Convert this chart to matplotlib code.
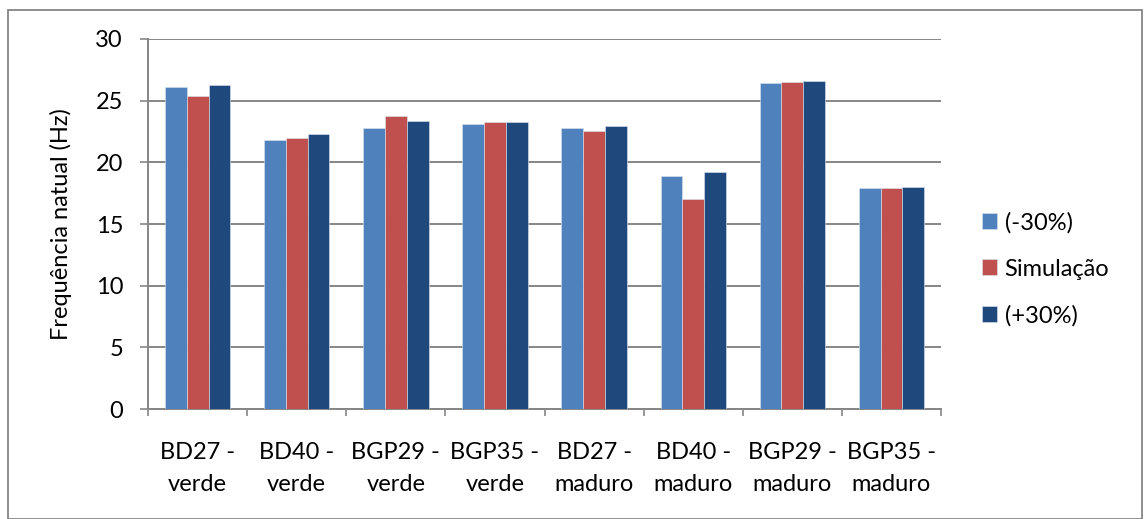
import numpy as np
import matplotlib.pyplot as plt
from matplotlib.patches import Rectangle

plt.rcParams['font.family'] = ['Lato', 'DejaVu Sans']

categories = ['BD27 -\nverde', 'BD40 -\nverde', 'BGP29 -\nverde', 'BGP35 -\nverde',
              'BD27 -\nmaduro', 'BD40 -\nmaduro', 'BGP29 -\nmaduro', 'BGP35 -\nmaduro']
minus30 = [26.1, 21.83, 22.76, 23.13, 22.76, 18.89, 26.43, 17.89]
simulacao = [25.35, 21.99, 23.75, 23.27, 22.51, 17.02, 26.51, 17.94]
plus30 = [26.27, 22.27, 23.32, 23.27, 22.94, 19.24, 26.59, 17.99]
series_names = ['(-30%)', 'Simulação', '(+30%)']
colors = ['#4F81BD', '#C0504D', '#1F497D']

fig = plt.figure(figsize=(11.44, 5.19), dpi=100)
ax = fig.add_axes([0.1294, 0.2119, 0.6932, 0.713])

# outer frame of the chart
fig.patches.append(Rectangle((0.007, 0.0), 0.991, 0.981, transform=fig.transFigure,
                             fill=False, edgecolor='#868686', linewidth=1.3))

x = np.arange(len(categories))
w = 0.22
for i, (vals, name, c) in enumerate(zip([minus30, simulacao, plus30], series_names, colors)):
    ax.bar(x + (i - 1) * w, vals, w, color=c, label=name, zorder=3,
           edgecolor='#dce6f2', linewidth=0.4)

ax.set_xlim(-0.5, len(categories) - 0.5)
ax.set_ylim(0, 30)
ax.set_yticks(np.arange(0, 31, 5))
ax.yaxis.grid(True, color='#868686', linewidth=1.4, zorder=0)
ax.set_axisbelow(True)

fs = 17
ax.set_xticks(x)
ax.set_xticklabels(categories, fontsize=fs, linespacing=1.65)
ax.set_xticks(np.arange(-0.5, len(categories)), minor=True)
ax.tick_params(axis='x', which='major', length=0, pad=24)
ax.tick_params(axis='x', which='minor', length=5, width=1.2, color='#868686', direction='out')
ax.tick_params(axis='y', length=6, width=1.2, color='#868686', direction='out',
               labelsize=fs, pad=12)

for s in ['top', 'right']:
    ax.spines[s].set_visible(False)
for s in ['left', 'bottom']:
    ax.spines[s].set_color('#868686')
    ax.spines[s].set_linewidth(1.4)

ax.set_ylabel('Frequência natual (Hz)', fontsize=fs, labelpad=17)

ax.legend(loc='center left', bbox_to_anchor=(1.025, 0.378), frameon=False, fontsize=fs,
          handlelength=0.65, handleheight=0.65, handletextpad=0.3, labelspacing=1.08)

fig.savefig('out.png', dpi=100)
